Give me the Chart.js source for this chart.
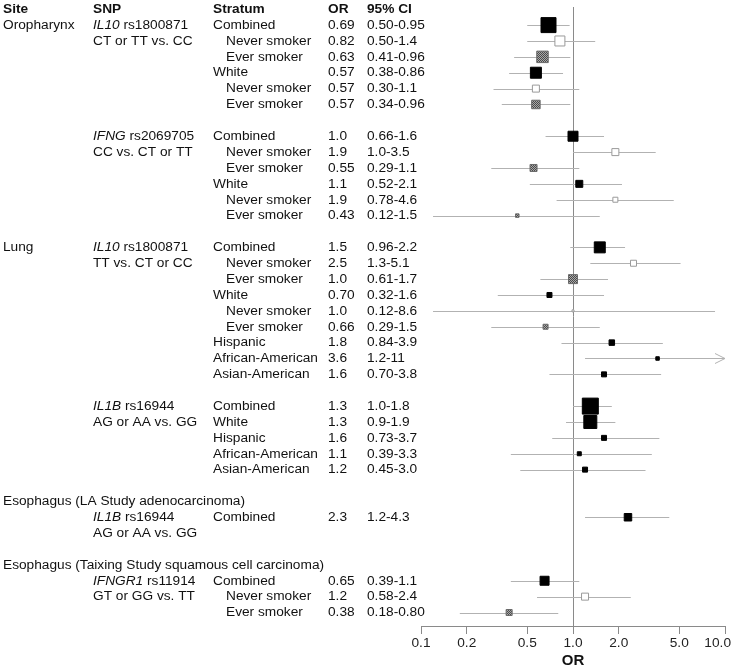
<!DOCTYPE html>
<html>
<head>
<meta charset="utf-8">
<script src="https://cdn.jsdelivr.net/npm/chart.js@4.4.1/dist/chart.umd.min.js"></script>
<style>
  html, body { margin: 0; padding: 0; background: #fff; }
</style>
</head>
<body>
<canvas id="forest" width="735" height="669"></canvas>
<script>
// line number of each estimate (0 = first line under the header row)
const rowIndex = [0, 1, 2, 3, 4, 5, 7, 8, 9, 10, 11, 12, 14, 15, 16, 17, 18, 19, 20, 21, 22, 24, 25, 26, 27, 28, 31, 35, 36, 37];
const strata = ['Combined', 'Never smoker', 'Ever smoker', 'White', 'Never smoker', 'Ever smoker',
  'Combined', 'Never smoker', 'Ever smoker', 'White', 'Never smoker', 'Ever smoker',
  'Combined', 'Never smoker', 'Ever smoker', 'White', 'Never smoker', 'Ever smoker', 'Hispanic', 'African-American', 'Asian-American',
  'Combined', 'White', 'Hispanic', 'African-American', 'Asian-American',
  'Combined',
  'Combined', 'Never smoker', 'Ever smoker'];
const orValues = [0.69, 0.82, 0.63, 0.57, 0.57, 0.57, 1.0, 1.9, 0.55, 1.1, 1.9, 0.43, 1.5, 2.5, 1.0, 0.70, 1.0, 0.66, 1.8, 3.6, 1.6, 1.3, 1.3, 1.6, 1.1, 1.2, 2.3, 0.65, 1.2, 0.38];
const orLabels = ['0.69', '0.82', '0.63', '0.57', '0.57', '0.57', '1.0', '1.9', '0.55', '1.1', '1.9', '0.43', '1.5', '2.5', '1.0', '0.70', '1.0', '0.66', '1.8', '3.6', '1.6', '1.3', '1.3', '1.6', '1.1', '1.2', '2.3', '0.65', '1.2', '0.38'];
const ciLow = [0.50, 0.50, 0.41, 0.38, 0.30, 0.34, 0.66, 1.0, 0.29, 0.52, 0.78, 0.12, 0.96, 1.3, 0.61, 0.32, 0.12, 0.29, 0.84, 1.2, 0.70, 1.0, 0.9, 0.73, 0.39, 0.45, 1.2, 0.39, 0.58, 0.18];
const ciHigh = [0.95, 1.4, 0.96, 0.86, 1.1, 0.96, 1.6, 3.5, 1.1, 2.1, 4.6, 1.5, 2.2, 5.1, 1.7, 1.6, 8.6, 1.5, 3.9, 11, 3.8, 1.8, 1.9, 3.7, 3.3, 3.0, 4.3, 1.1, 2.4, 0.80];
const ciLabels = ['0.50-0.95', '0.50-1.4', '0.41-0.96', '0.38-0.86', '0.30-1.1', '0.34-0.96', '0.66-1.6', '1.0-3.5', '0.29-1.1', '0.52-2.1', '0.78-4.6', '0.12-1.5', '0.96-2.2', '1.3-5.1', '0.61-1.7', '0.32-1.6', '0.12-8.6', '0.29-1.5', '0.84-3.9', '1.2-11', '0.70-3.8', '1.0-1.8', '0.9-1.9', '0.73-3.7', '0.39-3.3', '0.45-3.0', '1.2-4.3', '0.39-1.1', '0.58-2.4', '0.18-0.80'];
// weight of each estimate, as square side
const boxSize = [16, 11, 12.5, 12, 8, 9.5, 11, 8, 8, 8, 6, 4.5, 12, 7, 10, 6, 3, 6, 6.5, 4.5, 6, 17, 14, 6, 5, 6, 8.5, 10, 8, 7];

const siteNames = ['Oropharynx', 'Lung', 'Esophagus (LA Study adenocarcinoma)', 'Esophagus (Taixing Study squamous cell carcinoma)'];
const siteRows = [0, 14, 30, 34];
const geneNames = ['IL10', 'IFNG', 'IL10', 'IL1B', 'IL1B', 'IFNGR1'];
const snpIds = ['rs1800871', 'rs2069705', 'rs1800871', 'rs16944', 'rs16944', 'rs11914'];
const snpContrasts = ['CT or TT vs. CC', 'CC vs. CT or TT', 'TT vs. CT or CC', 'AG or AA vs. GG', 'AG or AA vs. GG', 'GT or GG vs. TT'];
const snpRows = [0, 7, 14, 24, 31, 35];
const headers = ['Site', 'SNP', 'Stratum', 'OR', '95% CI'];
const tickValues = [0.1, 0.2, 0.5, 1, 2, 5, 10];
const tickLabels = ['0.1', '0.2', '0.5', '1.0', '2.0', '5.0', '10.0'];
const axisTitle = 'OR';

const FONT = '"Liberation Sans", Arial, sans-serif';
const FS = 13.7;
const colX = [3, 93, 213, 328, 367];   // column starts
const indentX = 226;

// checkered grey for ever smokers
const makePattern = () => {
  const c = document.createElement('canvas');
  c.width = 2; c.height = 2;
  const g = c.getContext('2d');
  g.fillStyle = '#a8a8a8'; g.fillRect(0, 0, 2, 2);
  g.fillStyle = '#4a4a4a'; g.fillRect(0, 0, 1, 1); g.fillRect(1, 1, 1, 1);
  return g.createPattern(c, 'repeat');
};
const everFill = makePattern();

const kind = (s) => s.startsWith('Never') ? 'never' : (s.startsWith('Ever') ? 'ever' : 'solid');
const fillFor = { solid: '#000', never: '#fff', ever: everFill };
const edgeFor = { solid: '#000', never: '#9a9a9a', ever: '#6a6a6a' };

const forestPlugin = {
  id: 'forest',
  beforeDatasetsDraw(chart) {
    const { ctx, chartArea, scales: { x, y } } = chart;
    ctx.save();
    ctx.lineWidth = 1;
    // reference line at OR = 1
    const x1 = Math.round(x.getPixelForValue(1)) + 0.5;
    ctx.strokeStyle = '#8a8a8a';
    ctx.beginPath();
    ctx.moveTo(x1, chartArea.top);
    ctx.lineTo(x1, chartArea.bottom);
    ctx.stroke();
    // confidence intervals
    ctx.strokeStyle = '#b2b2b2';
    rowIndex.forEach((r, i) => {
      const py = Math.round(y.getPixelForValue(r)) + 0.5;
      const xa = x.getPixelForValue(Math.max(ciLow[i], x.min));
      const xb = x.getPixelForValue(Math.min(ciHigh[i], x.max));
      ctx.beginPath();
      ctx.moveTo(xa, py);
      ctx.lineTo(xb, py);
      ctx.stroke();
      if (ciHigh[i] > x.max) {
        // open arrow head where the interval runs off the axis
        ctx.beginPath();
        ctx.moveTo(xb - 10, py - 5);
        ctx.lineTo(xb, py);
        ctx.lineTo(xb - 10, py + 5);
        ctx.stroke();
      }
    });
    ctx.restore();
  },
  afterDraw(chart) {
    const { ctx, chartArea, scales: { x, y } } = chart;
    ctx.save();
    ctx.textBaseline = 'middle';
    ctx.fillStyle = '#111';
    const rowY = (r) => y.getPixelForValue(r);

    ctx.font = `bold ${FS}px ${FONT}`;
    headers.forEach((h, i) => ctx.fillText(h, colX[i], rowY(-1)));

    ctx.font = `${FS}px ${FONT}`;
    siteNames.forEach((s, i) => ctx.fillText(s, colX[0], rowY(siteRows[i])));

    snpRows.forEach((r, i) => {
      ctx.font = `italic ${FS}px ${FONT}`;
      ctx.fillText(geneNames[i], colX[1], rowY(r));
      const w = ctx.measureText(geneNames[i] + ' ').width;
      ctx.font = `${FS}px ${FONT}`;
      ctx.fillText(snpIds[i], colX[1] + w, rowY(r));
      ctx.fillText(snpContrasts[i], colX[1], rowY(r + 1));
    });

    ctx.font = `${FS}px ${FONT}`;
    rowIndex.forEach((r, i) => {
      const sx = kind(strata[i]) === 'solid' ? colX[2] : indentX;
      ctx.fillText(strata[i], sx, rowY(r));
      ctx.fillText(orLabels[i], colX[3], rowY(r));
      ctx.fillText(ciLabels[i], colX[4], rowY(r));
    });

    // tick labels under the OR axis, last one kept inside the canvas
    ctx.textAlign = 'center';
    ctx.fillStyle = '#222';
    tickValues.forEach((v, i) => {
      const half = ctx.measureText(tickLabels[i]).width / 2;
      const px = Math.min(x.getPixelForValue(v), chart.width - 4 - half);
      ctx.fillText(tickLabels[i], px, chartArea.bottom + 17.5);
    });
    ctx.font = `bold 15px ${FONT}`;
    ctx.fillStyle = '#111';
    ctx.fillText(axisTitle, x.getPixelForValue(1), chartArea.bottom + 34.5);
    ctx.restore();
  }
};

new Chart(document.getElementById('forest'), {
  type: 'scatter',
  data: {
    datasets: [{
      data: rowIndex.map((r, i) => ({ x: orValues[i], y: r })),
      pointStyle: 'rect',
      pointRadius: boxSize.map(s => Math.max(1, (s - 1) / 2 / Math.SQRT1_2)),
      pointBackgroundColor: strata.map(s => fillFor[kind(s)]),
      pointBorderColor: strata.map(s => edgeFor[kind(s)]),
      pointBorderWidth: 1
    }]
  },
  options: {
    responsive: false,
    animation: false,
    events: [],
    layout: { autoPadding: false, padding: { left: 421, right: 10, top: 7, bottom: 35 } },
    plugins: { legend: { display: false }, tooltip: { enabled: false } },
    scales: {
      x: {
        type: 'logarithmic',
        min: 0.1,
        max: 10,
        afterBuildTicks: (scale) => { scale.ticks = tickValues.map(v => ({ value: v })); },
        afterFit: (scale) => {
          scale.paddingLeft = 0; scale.paddingRight = 0;
          scale.paddingTop = 0; scale.paddingBottom = 0;
        },
        ticks: { display: false, autoSkip: false },
        grid: { drawOnChartArea: false, drawTicks: true, tickLength: 8, color: '#8a8a8a' },
        border: { color: '#8a8a8a' }
      },
      y: { type: 'linear', display: false, reverse: true, min: -1.14, max: 37.85 }
    }
  },
  plugins: [forestPlugin]
});
</script>
</body>
</html>
